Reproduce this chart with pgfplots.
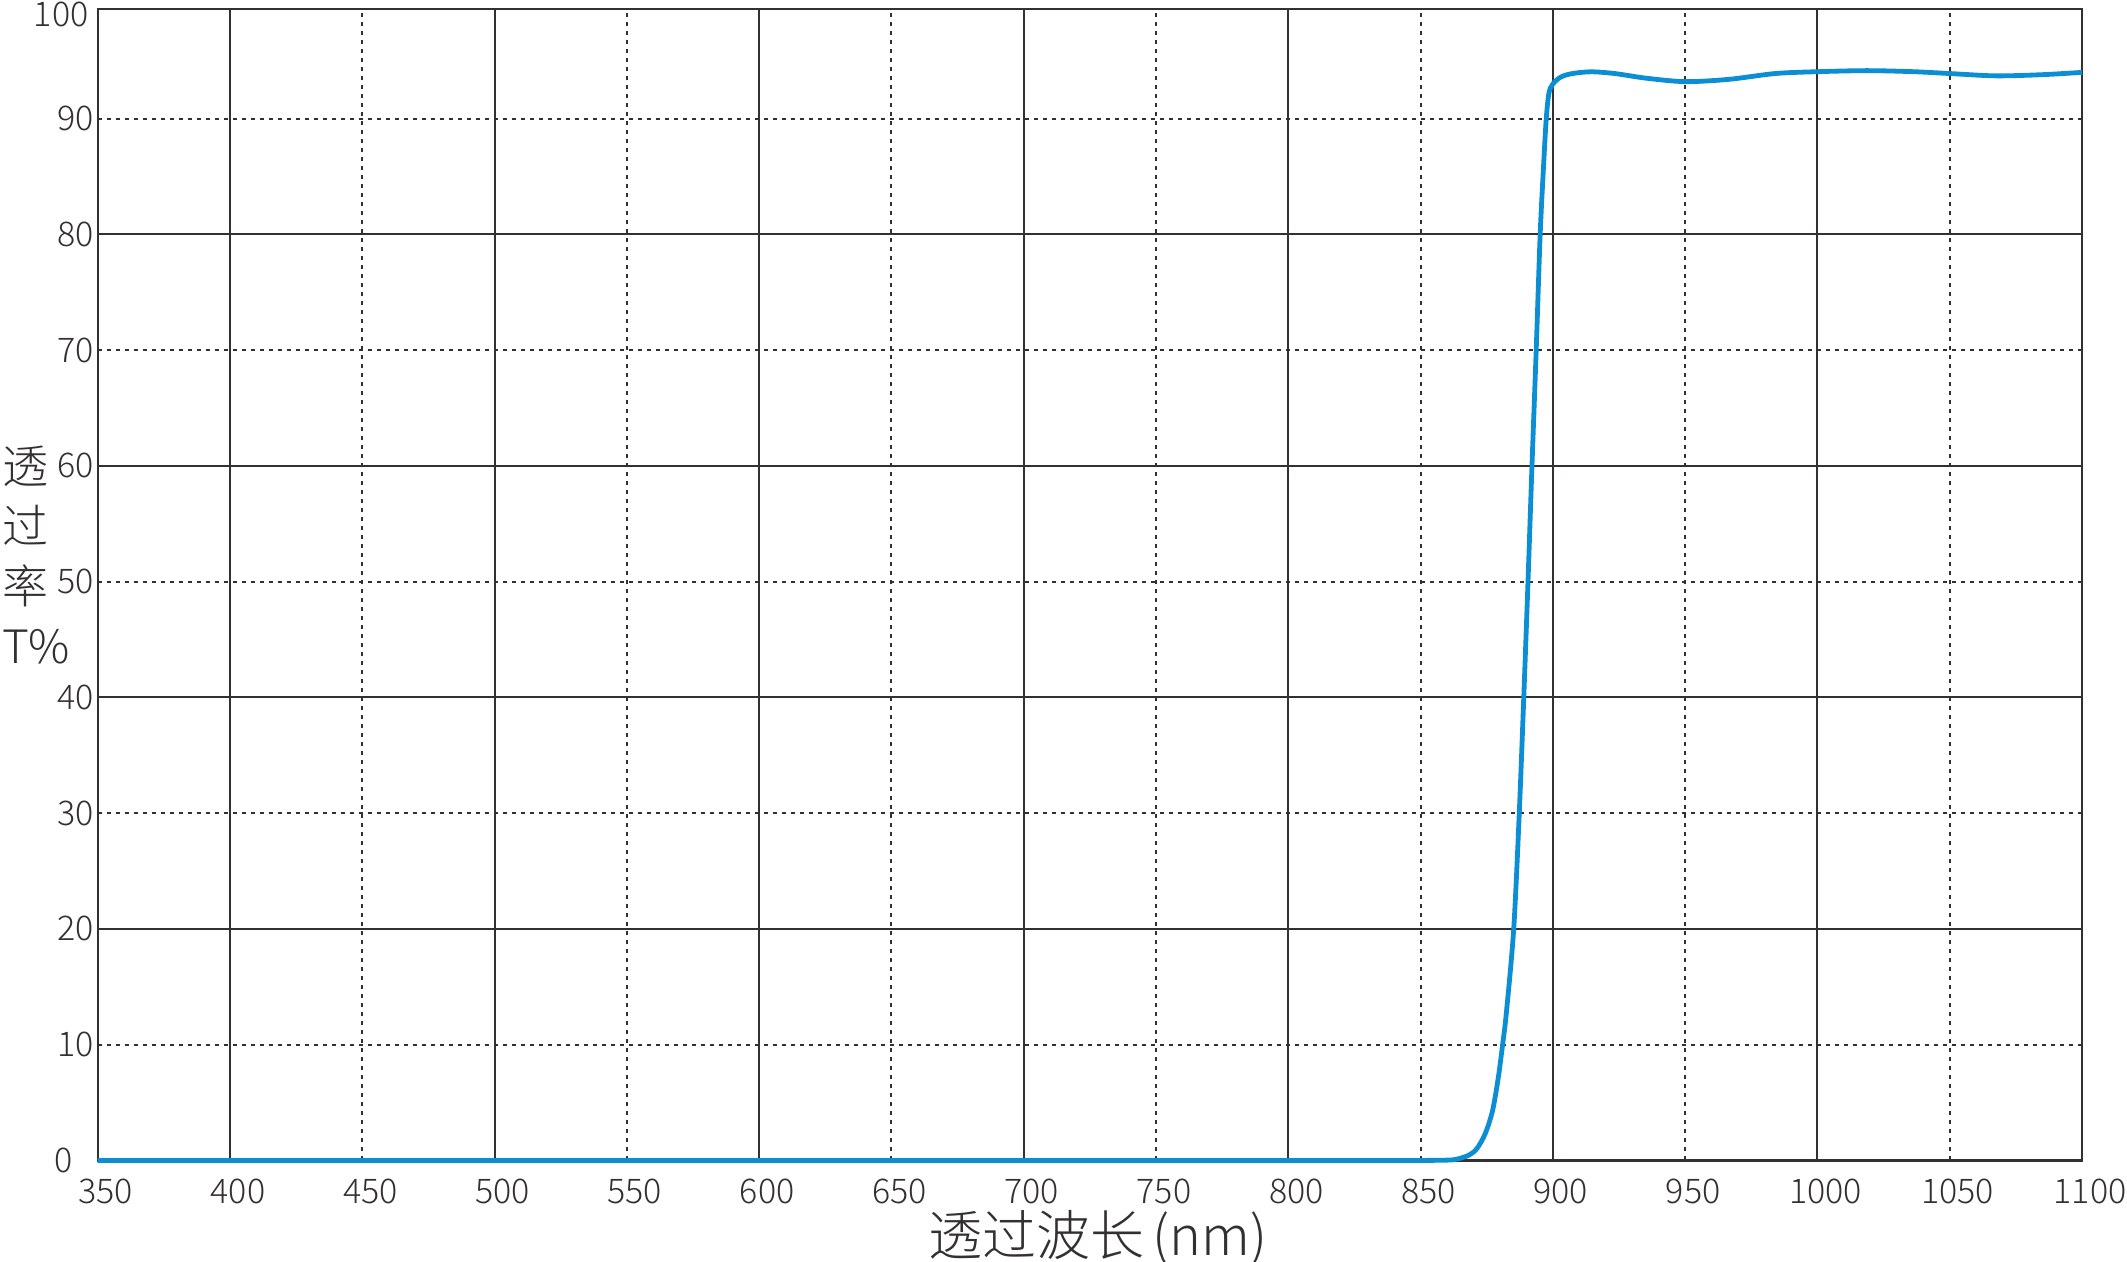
\documentclass[border=0pt]{standalone}
\usepackage{fontspec}
\IfFontExistsTF{Noto Sans CJK SC Light}{\setmainfont{Noto Sans CJK SC Light}}{\setmainfont{Noto Sans CJK SC}}
\usepackage{pgfplots}
\pgfplotsset{compat=1.18}
\definecolor{gridc}{RGB}{51,48,49}
\definecolor{curve}{RGB}{12,142,212}

\begin{document}
\begin{tikzpicture}
\begin{axis}[
  scale only axis,
  width=992pt, height=575.5pt,
  xmin=350, xmax=1100, ymin=0, ymax=99.45,
  axis line style={gridc, line width=1.1pt},
  major tick length=0pt,
  xtick={350,400,500,600,700,800,900,1000,1100},
  xticklabels={350,400,500,600,700,800,900,1000,1100},
  extra x ticks={450,550,650,750,850,950,1050},
  extra x tick labels={450,550,650,750,850,950,1050},
  ytick={0,20,40,60,80,99.45},
  yticklabels={{0\kern10.5pt},20,40,60,80,{}},
  extra y ticks={10,30,50,70,90},
  extra y tick labels={10,30,50,70,90},
  grid=major,
  major grid style={gridc, line width=1pt},
  extra tick style={grid=major, major grid style={gridc, line width=1pt, dash pattern=on 2pt off 2.5pt}},
  tick label style={font=\fontsize{17}{17}\selectfont, text=gridc},
  xticklabel style={yshift=-5.5pt, xshift=4pt},
  yticklabel style={xshift=1.5pt},
  xlabel={透过波长\kern4pt(nm)},
  xlabel style={font=\fontsize{27}{27}\selectfont, text=gridc, at={(axis description cs:0.5,0)}, anchor=center, xshift=4pt, yshift=-39pt},
  clip=false,
]
\addplot[curve, line width=2.4pt, smooth, tension=0.5] coordinates {
  (350,0) (400,0) (450,0) (500,0) (550,0) (600,0) (650,0) (700,0) (750,0)
  (800,0) (830,0) (845,0) (852,0.005) (858,0.02) (863,0.08) (868,0.43)
  (871.2,1.0) (874.4,2.3) (877.2,4.3) (879.4,7.2) (881,10) (882.4,12.7)
  (885.2,20) (887.3,30) (889,40) (890.6,50) (892.1,60) (893.7,70)
  (895.2,80) (896.5,86) (897.5,90) (898.5,92.2) (900,93.0) (903,93.6)
  (907.4,93.9) (914.5,94.05) (923.4,93.9) (935.2,93.5) (950,93.2)
  (966.6,93.4) (984,93.9) (1000,94.06) (1018.8,94.15) (1036.3,94.06)
  (1050,93.9) (1067.4,93.7) (1084.8,93.8) (1100,94.0)
};
\node[anchor=north east, inner sep=0pt, font=\fontsize{17}{17}\selectfont, text=gridc, xshift=-4.4pt, yshift=3.8pt] at (rel axis cs:0,1) {100};
\node[anchor=north west, inner sep=0pt, align=left, font=\fontsize{23}{30}\selectfont, text=gridc, xshift=-48pt, yshift=-218pt] at (rel axis cs:0,1) {透\\过\\率\\T\%};
\end{axis}
\pgfresetboundingbox
\path ([shift={(-48.85pt,-50.5pt)}]current axis.south west) rectangle ([shift={(22.5pt,4.65pt)}]current axis.north east);
\end{tikzpicture}
\end{document}
